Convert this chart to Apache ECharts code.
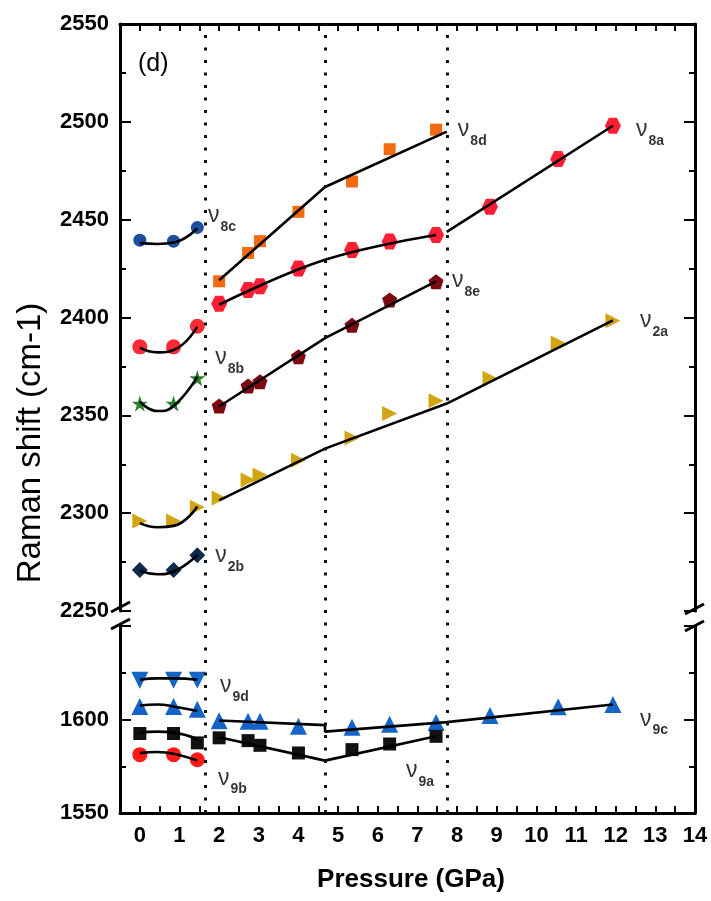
<!DOCTYPE html>
<html><head><meta charset="utf-8">
<script src="https://cdn.jsdelivr.net/npm/echarts@6/dist/echarts.min.js"></script>
<style>html,body{margin:0;padding:0;background:#fff}#c{width:711px;height:901px}</style>
</head><body><div id="c"></div>
<script>
// ---------- data ----------
const p1X = [0, 0.85, 1.45];                           // low-pressure phase
const p2X = [2.0, 2.73, 3.03, 4.0, 5.35, 6.3, 7.47];  // intermediate phase
const p3X = [8.83, 10.55, 11.93];                     // high-pressure phase
const dividers = [1.64, 4.67, 7.74];

// upper panel (cm-1)
const nu8c = [2439.5, 2439, 2446];
const nu8bP1 = [2385, 2385, 2395.5];
const starP1 = [2356, 2356, 2369];
const nu2aP1 = [2296, 2296, 2303];
const nu2b = [2271, 2271, 2278.5];
const nu8d = [2418.5, 2433, 2439, 2454, 2469.5, 2486, 2496];
const nu8aP2 = [2407, 2414, 2416, 2425, 2434.5, 2438.8, 2442.2];
const nu8aP3 = [2456.6, 2481, 2498];
const nu8e = [2354.8, 2365, 2367.2, 2380, 2396, 2409, 2418.3];
const nu2aP2 = [2307.8, 2317, 2319.5, 2327, 2338.4, 2351, 2357.5];
const nu2aP3 = [2369, 2387, 2398.4];

// lower panel (cm-1)
const nu9d = [1621, 1621, 1621];
const nu9cP1 = [1607, 1607, 1605.5];
const nu9aP1 = [1592.5, 1592.5, 1587.5];
const nu9b = [1581.2, 1581.2, 1578.5];
const nu9cP2 = [1599.3, 1599, 1599, 1596.4, 1595.8, 1597.5, 1598.4];
const nu9cP3 = [1602.2, 1606.8, 1608];
const nu9aP2 = [1590.2, 1588.7, 1586.2, 1582.1, 1583.9, 1586.9, 1591];

// fitted guide lines
const fitP1X = [0, 0.45, 0.85, 1.45];
const fit8c = [2438, 2437.6, 2438.3, 2445.5];
const fit8b = [2384.6, 2382.2, 2383.4, 2395.3];
const fitStar = [2357, 2352.2, 2354.8, 2369.8];
const fit2aP1 = [2294.9, 2292.8, 2293.5, 2303.4];
const fit2b = [2270.5, 2268.8, 2270.2, 2278.7];
const fit9d = [1621.3, 1622, 1622, 1621.3];
const fit9cP1 = [1607.5, 1608, 1607, 1604.5];
const fit9aP1 = [1593, 1593.5, 1593, 1589.5];
const fit9b = [1582, 1582.6, 1581.7, 1578.1];

const fit8dX = [2.0, 4.67, 7.74];   const fit8d = [2419, 2466.7, 2495];
const fit8aP2X = [2.0, 4.67, 7.47]; const fit8aP2 = [2406.5, 2429.5, 2442.2];
const fit8aP3X = [7.74, 11.93];     const fit8aP3 = [2443.8, 2498];
const fit8eX = [2.0, 4.67, 7.47];   const fit8e = [2354.5, 2389.5, 2418.5];
const fit2aX = [2.0, 4.67, 7.74, 11.93]; const fit2a = [2306.5, 2333, 2356, 2398.5];
const fit9cX = [2.0, 4.67, 4.67, 7.74, 11.93]; const fit9c = [1599.5, 1597, 1593.5, 1598.6, 1608];
const fit9aX = [2.0, 4.67, 7.47];   const fit9a = [1590.5, 1578, 1591];

// band labels
const upLabX = [1.72, 8.02, 12.51, 7.87, 1.90, 12.61, 1.90];
const upLabY = [2451.9, 2495.8, 2495.8, 2418.7, 2379.3, 2398.2, 2278.2];
const upLabS = ['8c', '8d', '8a', '8e', '8b', '2a', '2b'];
const loLabX = [2.02, 12.61, 1.97, 6.71];
const loLabY = [1618.1, 1600, 1568.6, 1572.4];
const loLabS = ['9d', '9c', '9b', '9a'];

const xRange = [-0.5, 14];
const upperY = [2250, 2550];
const lowerY = [1550, 1650];

// ---------- helpers ----------
const zip = (xs, ys) => xs.map((x, i) => [x, ys[i]]);
const hexagon = 'path://M-1,0L-0.5,-0.866L0.5,-0.866L1,0L0.5,0.866L-0.5,0.866Z';
const pentagon = 'path://M0,-1L0.951,-0.309L0.588,0.809L-0.588,0.809L-0.951,-0.309Z';
const star = 'path://M0,-1L0.2245,-0.309L0.951,-0.309L0.363,0.118L0.588,0.809L0,0.382L-0.588,0.809L-0.363,0.118L-0.951,-0.309L-0.2245,-0.309Z';

function sc(name, xs, ys, grid, symbol, size, color, rot) {
  return { name, type: 'scatter', xAxisIndex: grid, yAxisIndex: grid === 1 ? 1 : 3,
    data: zip(xs, ys), symbol, symbolSize: size, symbolRotate: rot || 0,
    itemStyle: { color, opacity: 1 }, z: 3, silent: true };
}
function fit(xs, ys, grid, smooth) {
  return { type: 'line', xAxisIndex: grid, yAxisIndex: grid === 1 ? 1 : 3,
    data: zip(xs, ys), symbol: 'none', smooth: smooth || false, silent: true,
    lineStyle: { color: '#000', width: 2.6 }, z: 4 };
}
function labels(xs, ys, subs, grid) {
  return { type: 'scatter', xAxisIndex: grid, yAxisIndex: grid === 1 ? 1 : 3,
    data: xs.map((x, i) => ({ value: [x, ys[i]], sub: subs[i] })), symbolSize: 0, z: 5, silent: true,
    label: { show: true, position: [0, 0], align: 'left', verticalAlign: 'middle',
      formatter: p => '{n|ν}{s|' + p.data.sub + '}',
      rich: { n: { fontSize: 23, fontFamily: 'Liberation Sans', color: '#000' },
              s: { fontSize: 14, fontWeight: 'bold', fontFamily: 'Liberation Sans', color: '#000', padding: [22, 0, 0, 1] } } } };
}

const font = 'Liberation Sans';
const axisLine = { show: true, onZero: false, lineStyle: { color: '#000', width: 3 } };
const tickY = { show: true, inside: true, length: 11, lineStyle: { color: '#000', width: 2 } };
const minorY = { show: true, splitNumber: 2, length: 6, lineStyle: { color: '#000', width: 2 } };
const tickX = { show: true, inside: true, length: 7, lineStyle: { color: '#000', width: 2 } };
const lab = { color: '#000', fontSize: 22, fontWeight: 'bold', fontFamily: font };
const xFmt = v => (v >= 0 && Math.abs(v - Math.round(v)) < 1e-6 ? String(Math.round(v)) : '');

const G = { left: 120, right: 16 };
const option = {
  animation: false,
  backgroundColor: '#fff',
  grid: [
    { left: G.left, right: G.right, top: 24, bottom: 88 },        // overlay
    { left: G.left, right: G.right, top: 24, height: 587 },       // upper
    { left: G.left, right: G.right, top: 626, bottom: 88 }        // lower
  ],
  xAxis: [
    { gridIndex: 0, type: 'value', min: xRange[0], max: xRange[1], show: false },
    { gridIndex: 1, type: 'value', position: 'top', min: xRange[0], max: xRange[1], interval: 0.5,
      axisLine, axisTick: tickX, axisLabel: { show: false }, splitLine: { show: false } },
    { gridIndex: 2, type: 'value', position: 'bottom', min: xRange[0], max: xRange[1], interval: 0.5,
      axisLine, axisTick: tickX, splitLine: { show: false },
      axisLabel: Object.assign({ margin: 12, formatter: xFmt }, lab) }
  ],
  yAxis: [
    { gridIndex: 0, type: 'value', min: 0, max: 1, show: false },
    { gridIndex: 1, type: 'value', min: upperY[0], max: upperY[1], interval: 50, axisLine,
      axisTick: tickY, minorTick: minorY, splitLine: { show: false },
      axisLabel: Object.assign({ margin: 11, formatter: v => String(v) }, lab) },
    { gridIndex: 1, type: 'value', position: 'right', min: upperY[0], max: upperY[1], interval: 50, axisLine,
      axisTick: tickY, minorTick: minorY, splitLine: { show: false }, axisLabel: { show: false } },
    { gridIndex: 2, type: 'value', min: lowerY[0], max: lowerY[1], interval: 50, axisLine,
      axisTick: tickY, minorTick: minorY, splitLine: { show: false },
      axisLabel: Object.assign({ margin: 11, showMaxLabel: false, formatter: v => String(v) }, lab) },
    { gridIndex: 2, type: 'value', position: 'right', min: lowerY[0], max: lowerY[1], interval: 50, axisLine,
      axisTick: tickY, minorTick: minorY, splitLine: { show: false }, axisLabel: { show: false } }
  ],
  series: [
    { type: 'scatter', xAxisIndex: 0, yAxisIndex: 0, data: [[0, 0]], symbolSize: 0, silent: true,
      markLine: { symbol: 'none', silent: true, label: { show: false },
        lineStyle: { color: '#111', width: 3, type: [3, 9.5] },
        data: dividers.map(x => ({ xAxis: x })) } },
    // upper markers
    sc('v8c', p1X, nu8c, 1, 'circle', 13, '#1d4f9c'),
    sc('v8b', p1X, nu8bP1, 1, 'circle', 15, '#ff2a35'),
    sc('star', p1X, starP1, 1, star, 16, '#2a7f2a'),
    sc('v2a1', p1X, nu2aP1, 1, 'triangle', 15, '#d2a514', -90),
    sc('v2b', p1X, nu2b, 1, 'diamond', 16, '#0e2a4c'),
    sc('v8d', p2X, nu8d, 1, 'rect', 12, '#f36b10'),
    sc('v8a2', p2X, nu8aP2, 1, hexagon, 16, '#ff1f35'),
    sc('v8a3', p3X, nu8aP3, 1, hexagon, 16, '#ff1f35'),
    sc('v8e', p2X, nu8e, 1, pentagon, 15, '#7c0a12'),
    sc('v2a2', p2X, nu2aP2, 1, 'triangle', 15, '#d2a514', -90),
    sc('v2a3', p3X, nu2aP3, 1, 'triangle', 15, '#d2a514', -90),
    // upper fits
    fit(fitP1X, fit8c, 1, true), fit(fitP1X, fit8b, 1, true), fit(fitP1X, fitStar, 1, true),
    fit(fitP1X, fit2aP1, 1, true), fit(fitP1X, fit2b, 1, true),
    fit(fit8dX, fit8d, 1), fit(fit8aP2X, fit8aP2, 1, 0.4), fit(fit8aP3X, fit8aP3, 1),
    fit(fit8eX, fit8e, 1), fit(fit2aX, fit2a, 1),
    labels(upLabX, upLabY, upLabS, 1),
    // lower markers
    sc('v9d', p1X, nu9d, 2, 'triangle', 17, '#1565c8', 180),
    sc('v9c1', p1X, nu9cP1, 2, 'triangle', 17, '#1565c8'),
    sc('v9a1', p1X, nu9aP1, 2, 'rect', 13, '#111'),
    sc('v9b', p1X, nu9b, 2, 'circle', 15, '#ff1a1a'),
    sc('v9c2', p2X, nu9cP2, 2, 'triangle', 17, '#1565c8'),
    sc('v9c3', p3X, nu9cP3, 2, 'triangle', 17, '#1565c8'),
    sc('v9a2', p2X, nu9aP2, 2, 'rect', 13, '#111'),
    // lower fits
    fit(fitP1X, fit9d, 2, true), fit(fitP1X, fit9cP1, 2, true), fit(fitP1X, fit9aP1, 2, true), fit(fitP1X, fit9b, 2, true),
    fit(fit9cX, fit9c, 2), fit(fit9aX, fit9a, 2),
    labels(loLabX, loLabY, loLabS, 2)
  ],
  graphic: [
    { type: 'text', left: 138, top: 52, style: { text: '(d)', fontSize: 25, fontFamily: font, fill: '#000' } },
    { type: 'text', x: 31, y: 443, rotation: Math.PI / 2,
      style: { text: 'Raman shift (cm-1)', fontSize: 33, fontFamily: font, fill: '#000', align: 'center', verticalAlign: 'middle' } },
    { type: 'text', x: 411, y: 880,
      style: { text: 'Pressure (GPa)', fontSize: 26, fontWeight: 'bold', fontFamily: font, fill: '#000', align: 'center', verticalAlign: 'middle' } },
    // axis break marks
    { type: 'line', shape: { x1: 111, y1: 612, x2: 130, y2: 602 }, style: { stroke: '#000', lineWidth: 3 } },
    { type: 'line', shape: { x1: 111, y1: 629, x2: 130, y2: 619 }, style: { stroke: '#000', lineWidth: 3 } },
    { type: 'line', shape: { x1: 685, y1: 614, x2: 704, y2: 604 }, style: { stroke: '#000', lineWidth: 3 } },
    { type: 'line', shape: { x1: 685, y1: 631, x2: 704, y2: 621 }, style: { stroke: '#000', lineWidth: 3 } }
  ]
};
const chart = echarts.init(document.getElementById('c'), null, { renderer: 'canvas' });
chart.setOption(option);
</script></body></html>
